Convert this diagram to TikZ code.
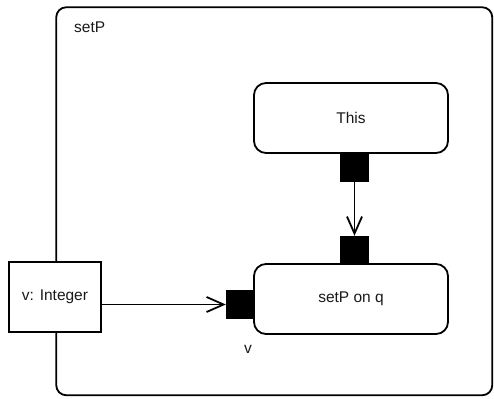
\documentclass[tikz,border=0pt]{standalone}
\usepackage{fontspec}
\setmainfont{Liberation Sans}
\usetikzlibrary{arrows.meta}
\begin{document}
\begin{tikzpicture}[x=1pt,y=-1pt,
  every node/.style={font=\fontsize{15.5}{18}\selectfont, text=black!90},
  ln/.style={line width=1.8pt},
  rbox/.style={ln, draw, fill=white, rounded corners=12pt, minimum width=194pt, minimum height=70pt, inner sep=0pt},
  sbox/.style={ln, draw, fill=white, minimum width=92pt, minimum height=70pt, inner sep=0pt},
  port/.style={fill=black, minimum size=29pt, inner sep=0pt},
  conn/.style={ln, -{Straight Barb[length=17pt,width=15pt,line width=1.8pt]}}]
\useasboundingbox (0,0) rectangle (494,398);
\node[ln, draw, rounded corners=10pt, minimum width=436pt, minimum height=388pt, inner sep=0pt] (frame) at (274.25,201.25) {};
\node[anchor=west, inner sep=0pt] (title) at (74,27) {setP};
\node[rbox] (this) at (351,118) {This};
\node[rbox] (q) at (351,299) {setP on q};
\node[sbox] (int) at (55,297) {v: Integer};
\node[port] (p1) at (354.5,167.5) {};
\node[port] (p2) at (354.5,250.5) {};
\node[port] (p3) at (240.5,304.5) {};
\node[inner sep=0pt] (vl) at (248,349) {v};
\draw[conn] (p1.south) -- (p2.north);
\draw[conn] (int.east |- p3) -- (p3.west);
\end{tikzpicture}
\end{document}
